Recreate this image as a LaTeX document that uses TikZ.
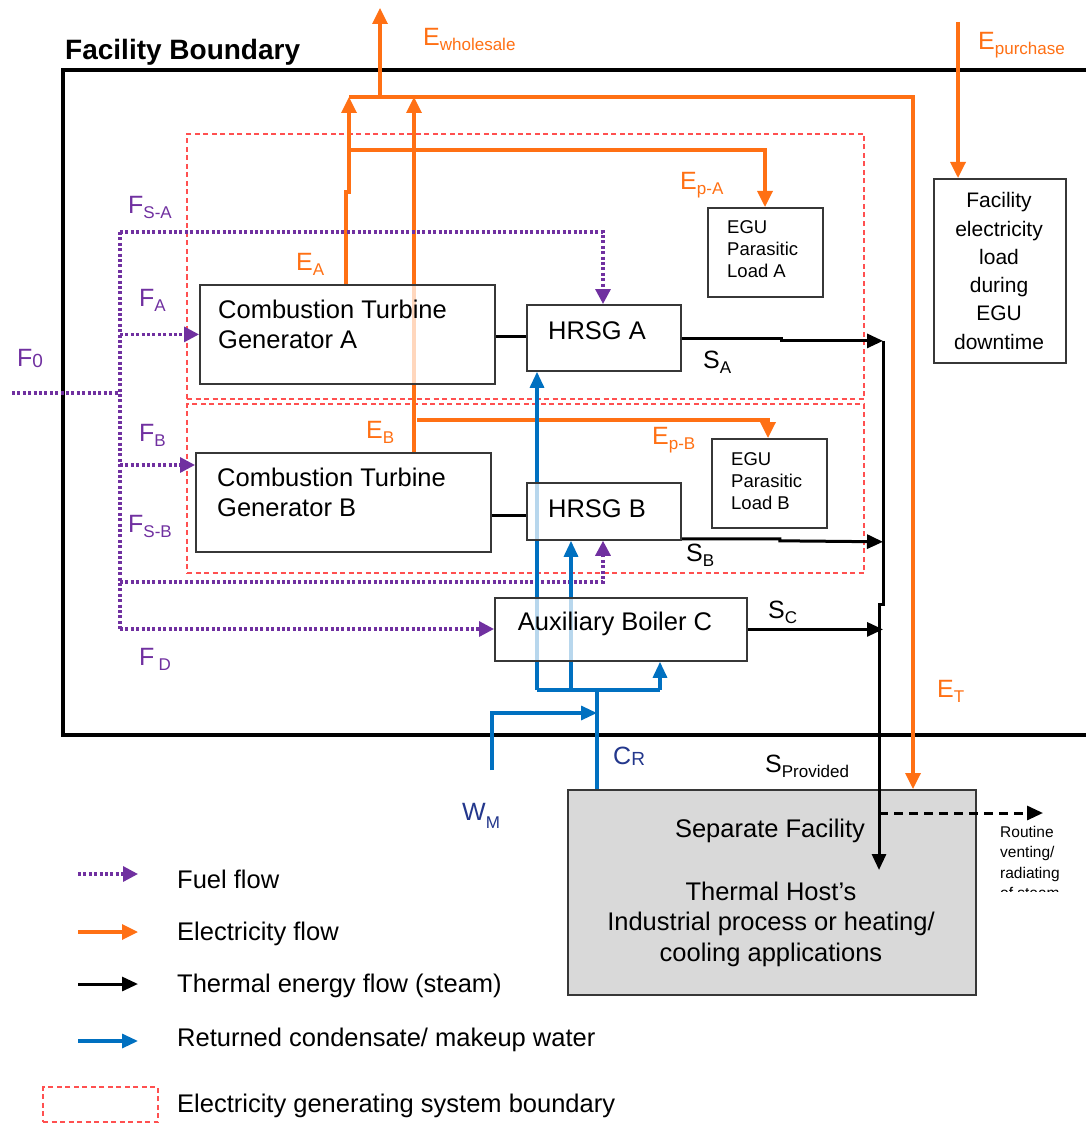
\documentclass[tikz,border=0pt]{standalone}
\usepackage{fontspec}
\setmainfont{Liberation Sans}
\usetikzlibrary{arrows.meta}
\definecolor{eorange}{RGB}{255,112,20}
\definecolor{fpurple}{RGB}{112,48,160}
\definecolor{wblue}{RGB}{0,112,192}
\definecolor{navyl}{RGB}{35,55,140}
\definecolor{egured}{RGB}{255,80,80}
\definecolor{hostgray}{RGB}{217,217,217}
\definecolor{boxline}{RGB}{55,55,55}
\newcommand{\fsub}[2]{#1\raisebox{-5pt}{\fontsize{17}{17}\selectfont #2}}
\tikzset{
  arr/.style={-{Triangle[length=16pt,width=15pt]}},
  arrs/.style={-{Triangle[length=16pt,width=14pt]}},
  arrf/.style={-{Triangle[length=15pt,width=15pt]}},
  elec/.style={draw=eorange, line width=3.3pt},
  fuel/.style={draw=fpurple, line width=3.2pt, dash pattern={on 3pt off 2.4pt}},
  steam/.style={draw=black, line width=3pt},
  water/.style={draw=wblue, line width=3.2pt},
  egubox/.style={draw=egured, line width=2pt, dash pattern={on 5pt off 3.5pt}, inner sep=0pt, anchor=north west},
  box/.style={draw=boxline, line width=1.8pt, fill=white, fill opacity=0.72, text opacity=1, inner sep=0pt, anchor=north west},
  boxtxt/.style={inner sep=0pt, font=\fontsize{25.5}{30}\selectfont},
  lab/.style={inner sep=0pt, anchor=base west, font=\fontsize{25}{25}\selectfont},
  legtxt/.style={inner sep=0pt, anchor=west, font=\fontsize{25.5}{30}\selectfont},
}
\begin{document}
\begin{tikzpicture}[x=1pt,y=-1pt]
\useasboundingbox (0,0) rectangle (1085,1123);
\fill[white] (0,0) rectangle (1085,1123);

% facility boundary
\draw[line width=4.8pt] (63,70) rectangle (1110,735);
\node[anchor=base west, inner sep=0pt, font=\bfseries\fontsize{28}{28}\selectfont] (fbtitle) at (65,60) {Facility Boundary};

% electricity generating system boundaries
\node[egubox, minimum width=677pt, minimum height=265pt] (sysA) at (186,133) {};
\node[egubox, minimum width=677pt, minimum height=169pt] (sysB) at (186,403) {};

% box shapes (invisible, for anchors); drawn later on top of the flows
\path
  node[box, draw=none, fill=none, minimum width=295pt, minimum height=99pt] (ctga) at (199,284) {}
  node[box, draw=none, fill=none, minimum width=295pt, minimum height=99pt] (ctgb) at (195,452) {}
  node[box, draw=none, fill=none, minimum width=154pt, minimum height=66pt] (hrsga) at (526,304) {}
  node[box, draw=none, fill=none, minimum width=154pt, minimum height=57pt] (hrsgb) at (526,482) {}
  node[box, draw=none, fill=none, minimum width=115pt, minimum height=89pt] (egua) at (707,207) {}
  node[box, draw=none, fill=none, minimum width=115pt, minimum height=89pt] (egub) at (711,438) {}
  node[box, draw=none, fill=none, minimum width=132pt, minimum height=184pt] (fac) at (933,178) {}
  node[box, draw=none, fill=none, minimum width=252pt, minimum height=63pt] (auxc) at (494,597) {};
\node[anchor=north west, inner sep=0pt, draw=boxline, line width=1.8pt, fill=hostgray, minimum width=408pt, minimum height=205pt] (host) at (567,789) {};

% named coordinates
\coordinate (cEA) at (349,97);
\coordinate (cEB) at (414,97);
\coordinate (cWS) at (380,97);
\coordinate (cWStop) at (380,8);
\coordinate (cET) at (913,97);
\coordinate (cPA) at (765,150);
\coordinate (cPB) at (768,420);
\coordinate (cPur) at (958,22);
\coordinate (cF0) at (12,393);
\coordinate (cFtop) at (120,232);
\coordinate (cFbot) at (120,629);
\coordinate (cFB) at (120,465);
\coordinate (cFSB) at (120,582);
\coordinate (cFSA) at (603,0);
\coordinate (cCol) at (883,0);
\coordinate (cColj) at (883,604);
\coordinate (cSP) at (879,870);
\coordinate (cV0) at (879,813);
\coordinate (cV1) at (1043,813);
\coordinate (cB1) at (537,690);
\coordinate (cB2) at (571,690);
\coordinate (cB3) at (660,690);
\coordinate (cCR) at (597,690);
\coordinate (cWM) at (492,770);
\coordinate (cWMj) at (597,713);

% electricity flows
\draw[elec, arr] (ctga.north -| cEA) ++(-3,0) -- ++(0,-92) -- ++(3,0) -- (cEA);
\draw[elec, arr] (ctgb.north -| cEB) -- (cEB);
\draw[elec, arr] (cEA) -- (cET) -- (host.north -| cET);
\draw[elec, arr] (cWS) -- (cWStop);
\draw[elec, arr] (cEA |- cPA) -- (cPA) -- (egua.north -| cPA);
\draw[elec, arr] ([xshift=3pt]cEB |- cPB) -- (cPB) -- (egub.north -| cPB);
\draw[elec, arr] (cPur) -- (fac.north -| cPur);

% fuel flows
\draw[fuel] (cF0) -- (cF0 -| cFtop);
\draw[fuel] (cFtop) -- (cFbot);
\draw[fuel, arrf] (cFtop) -- (cFtop -| cFSA) -- (hrsga.north -| cFSA);
\draw[fuel, arrf] (ctga.west -| cFtop) -- (ctga.west);
\draw[fuel, arrf] (cFB) -- (cFB -| ctgb.west);
\draw[fuel, arrf] (cFSB) -- (cFSB -| cFSA) -- (hrsgb.south -| cFSA);
\draw[fuel, arrf] (cFbot) -- (cFbot -| auxc.west);

% steam flows
\draw[steam, line width=2.2pt] ([yshift=-2pt]ctga.east) -- ([yshift=-2pt]ctga.east -| hrsga.west);
\draw[steam, line width=2.2pt] ([yshift=-13pt]ctgb.east) -- ([yshift=-13pt]ctgb.east -| hrsgb.west);
\draw[steam, arrs] ([yshift=-1pt]hrsga.east) -- ++(100,0) -- ++(0,2) -- ([yshift=-3pt]hrsga.east -| cCol);
\draw[steam, arrs] ([yshift=2pt]hrsgb.south east) -- ++(98,0) -- ++(0,2) -- ([yshift=-1pt]hrsgb.south east -| cCol);
\draw[steam, arrs] (auxc.east) -- (auxc.east -| cCol);
\draw[steam] ([yshift=-3pt]hrsga.east -| cCol) -- (cColj) -- (cColj -| cSP) -- (host.north -| cSP);
\draw[steam, dash pattern={on 9pt off 6pt}, arrs] (cV0) -- (cV1);

% water flows
\draw[water] (cB1) -- (cB3);
\draw[water, arrs] (cB1) -- (hrsga.south -| cB1);
\draw[water, arrs] (cB2) -- (hrsgb.south -| cB2);
\draw[water, arrs] (cB3) -- (auxc.south -| cB3);
\draw[water] (host.north -| cCR) -- (cCR);
\draw[water, arrs] (cWM) -- (cWM |- cWMj) -- (cWMj);

% boxes on top
\node[box, minimum width=295pt, minimum height=99pt] (ctgaB) at (199,284) {};
\node[box, minimum width=295pt, minimum height=99pt] (ctgbB) at (195,452) {};
\node[box, minimum width=154pt, minimum height=66pt] (hrsgaB) at (526,304) {};
\node[box, minimum width=154pt, minimum height=57pt] (hrsgbB) at (526,482) {};
\node[box, minimum width=115pt, minimum height=89pt] (eguaB) at (707,207) {};
\node[box, minimum width=115pt, minimum height=89pt] (egubB) at (711,438) {};
\node[box, minimum width=132pt, minimum height=184pt] (facB) at (933,178) {};
\node[box, minimum width=252pt, minimum height=63pt] (auxcB) at (494,597) {};
% steam into the host
\draw[steam, arrs] (host.north -| cSP) -- (cSP);

% box texts
\node[boxtxt, anchor=north west, align=left] (tctga) at (218,300) {Combustion Turbine\\Generator A};
\node[boxtxt, anchor=north west, align=left] (tctgb) at (217,468) {Combustion Turbine\\Generator B};
\node[boxtxt] (thrsga) at (597,331) {HRSG A};
\node[boxtxt] (thrsgb) at (597,509) {HRSG B};
\node[boxtxt] (tauxc) at (615,624) {Auxiliary Boiler C};
\node[inner sep=0pt, anchor=west, align=left, font=\fontsize{18.5}{22}\selectfont] (tegua) at (727,249) {EGU\\Parasitic\\Load A};
\node[inner sep=0pt, anchor=west, align=left, font=\fontsize{18.5}{22}\selectfont] (tegub) at (731,481) {EGU\\Parasitic\\Load B};
\node[inner sep=0pt, align=center, font=\fontsize{21}{28.3}\selectfont] (tfac) at (999,271) {Facility\\electricity\\load\\during\\EGU\\downtime};
\node[boxtxt] (thost1) at (770,831) {Separate Facility};
\node[boxtxt, align=center, font=\fontsize{25.5}{30.5}\selectfont] (thost2) at (771,924) {Thermal Host’s\\Industrial process or heating/\\cooling applications};
\begin{scope}
\clip (990,815) rectangle (1085,891);
\node[inner sep=0pt, anchor=north west, align=left, font=\fontsize{15.5}{20.5}\selectfont] (tvent) at (1000,826) {Routine\\venting/\\radiating\\of steam};
\end{scope}

% flow labels
\begin{scope}[every node/.style={lab}]
\node[text=eorange] (lEws) at (423,46) {\fsub{E}{wholesale}};
\node[text=eorange] (lEpu) at (978,50) {\fsub{E}{purchase}};
\node[text=eorange] (lEpa) at (680,190) {\fsub{E}{p-A}};
\node[text=eorange] (lEa) at (296,270) {\fsub{E}{A}};
\node[text=eorange] (lEb) at (366,438) {\fsub{E}{B}};
\node[text=eorange] (lEpb) at (652,444) {\fsub{E}{p-B}};
\node[text=eorange] (lEt) at (937,697) {\fsub{E}{T}};
\node[text=fpurple] (lFsa) at (128,214) {\fsub{F}{S-A}};
\node[text=fpurple] (lFa) at (139,306) {\fsub{F}{A}};
\node[text=fpurple] (lF0) at (17,366) {F\raisebox{-1pt}{\fontsize{19}{19}\selectfont 0}};
\node[text=fpurple] (lFb) at (139,441) {\fsub{F}{B}};
\node[text=fpurple] (lFsb) at (128,532) {\fsub{F}{S-B}};
\node[text=fpurple] (lFd) at (139,665) {F\,\raisebox{-5pt}{\fontsize{17}{17}\selectfont D}};
\node (lSa) at (703,368) {\fsub{S}{A}};
\node (lSb) at (686,561) {\fsub{S}{B}};
\node (lSc) at (768,618) {\fsub{S}{C}};
\node (lSp) at (765,772) {\fsub{S}{Provided}};
\node[text=navyl] (lCr) at (613,764) {C\raisebox{-1pt}{\fontsize{19}{19}\selectfont R}};
\node[text=navyl] (lWm) at (462,820) {W\raisebox{-8pt}{\fontsize{17}{17}\selectfont M}};
\end{scope}

% legend
\coordinate (lg1a) at (78,874);  \coordinate (lg1b) at (138,874);
\coordinate (lg2a) at (78,932);  \coordinate (lg2b) at (138,932);
\coordinate (lg3a) at (78,984);  \coordinate (lg3b) at (138,984);
\coordinate (lg4a) at (78,1041); \coordinate (lg4b) at (138,1041);
\draw[fuel, arrf] (lg1a) -- (lg1b);
\draw[elec, arr] (lg2a) -- (lg2b);
\draw[steam, arrs] (lg3a) -- (lg3b);
\draw[water, arrs] (lg4a) -- (lg4b);
\node[egubox, minimum width=115pt, minimum height=35pt] (lg5) at (42,1086) {};
\node[legtxt] (lt1) at (177,879) {Fuel flow};
\node[legtxt] (lt2) at (177,934) {Electricity flow};
\node[legtxt] (lt3) at (177,986) {Thermal energy flow (steam)};
\node[legtxt] (lt4) at (177,1040) {Returned condensate/ makeup water};
\node[legtxt] (lt5) at (177,1106) {Electricity generating system boundary};
\end{tikzpicture}
\end{document}
